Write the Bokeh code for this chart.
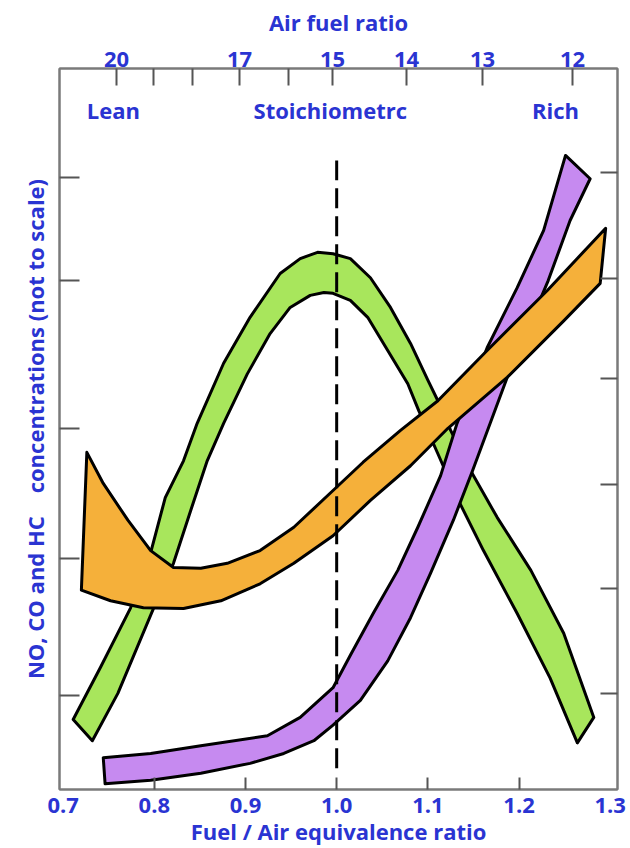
from bokeh.plotting import figure
from bokeh.models import Range1d, LinearAxis, FixedTicker, CustomJSTickFormatter, Label
from bokeh.embed import file_html
from bokeh.resources import INLINE

# ---------------- data ----------------
# x: fuel/air equivalence ratio, y: concentration (arbitrary units, not to scale)
no_upper_x = [0.711, 0.741, 0.774, 0.796, 0.812, 0.832, 0.847, 0.876, 0.905, 0.938, 0.960, 0.979,
              0.996, 1.015, 1.037, 1.059, 1.081, 1.100, 1.111, 1.125, 1.147, 1.176, 1.213, 1.249, 1.282]
no_upper_y = [9.9, 17.3, 25.7, 33.5, 41.3, 46.5, 51.8, 60.3, 66.8, 73.0, 75.1, 76.0,
              75.8, 75.1, 72.4, 68.2, 63.1, 57.9, 55.0, 50.8, 45.1, 38.5, 31.0, 22.1, 10.2]
no_lower_x = [0.732, 0.760, 0.799, 0.821, 0.840, 0.858, 0.876, 0.902, 0.927, 0.949, 0.971, 0.986,
              0.996, 1.015, 1.034, 1.056, 1.078, 1.090, 1.111, 1.132, 1.161, 1.198, 1.234, 1.264]
no_lower_y = [6.9, 13.6, 25.6, 32.0, 39.5, 46.5, 51.8, 58.8, 64.5, 68.2, 69.9, 70.3,
              70.2, 69.2, 66.8, 62.1, 57.4, 53.6, 47.5, 41.3, 33.8, 24.9, 15.8, 6.6]

co_upper_x = [0.744, 0.796, 0.851, 0.924, 0.960, 0.996, 1.015, 1.040, 1.067, 1.089, 1.114, 1.132,
              1.165, 1.198, 1.227, 1.251]
co_upper_y = [4.5, 5.1, 6.2, 7.6, 10.2, 14.4, 19.0, 24.9, 31.0, 37.1, 44.4, 51.8,
              62.5, 71.0, 79.1, 89.7]
co_lower_x = [0.746, 0.796, 0.851, 0.905, 0.942, 0.975, 0.996, 1.026, 1.056, 1.081, 1.103, 1.128,
              1.149, 1.187, 1.232, 1.256, 1.278]
co_lower_y = [0.8, 1.3, 2.3, 3.7, 5.1, 6.9, 9.1, 12.6, 18.2, 24.3, 30.6, 38.1,
              45.1, 58.3, 72.0, 80.5, 86.4]

hc_upper_x = [0.726, 0.744, 0.771, 0.796, 0.821, 0.851, 0.880, 0.916, 0.953, 0.996, 1.029, 1.070,
              1.111, 1.165, 1.231, 1.295]
hc_upper_y = [47.7, 43.3, 38.1, 33.8, 31.4, 31.3, 32.0, 33.8, 37.1, 42.3, 46.3, 50.8,
              55.0, 62.1, 70.6, 79.4]
hc_lower_x = [0.720, 0.752, 0.788, 0.832, 0.873, 0.916, 0.953, 0.996, 1.037, 1.081, 1.122, 1.187,
              1.249, 1.289]
hc_lower_y = [28.2, 26.7, 25.7, 25.6, 26.7, 29.1, 32.0, 35.9, 40.9, 45.8, 51.1, 58.3,
              66.3, 71.6]

stoich_phi = 1.0
stoich_line_y = [3.0, 89.0]

# axes
phi_labels = ["0.7", "0.8", "0.9", "1.0", "1.1", "1.2", "1.3"]
phi_ticks = [0.7, 0.8, 0.9, 1.0, 1.1, 1.2, 1.3]
afr_values = [20, 19, 18, 17, 16, 15, 14, 13, 12]
afr_phi = [0.7585, 0.7991, 0.8419, 0.8934, 0.9471, 0.9954, 1.0766, 1.1599, 1.2586]
afr_labeled = [True, False, False, True, False, True, True, True, True]
left_ticks = [13.3, 32.7, 51.1, 72.0, 86.6]
right_ticks = [13.6, 28.4, 43.1, 58.1, 72.3, 87.3]

regions = ["Lean", "Stoichiometrc", "Rich"]
region_x = [0.755, 0.993, 1.240]
region_y = 96.1

# ---------------- style ----------------
BLUE = "#2a34d2"
FONT = "Open Sans"
FS = "22px"
GRAY = "#7a7a7a"

p = figure(width=630, height=848, output_backend="svg", toolbar_location=None,
           x_range=Range1d(0.696, 1.308), y_range=Range1d(0, 102),
           x_axis_location=None, y_axis_location=None,
           min_border_left=59, min_border_right=13, min_border_top=68, min_border_bottom=59)
p.outline_line_color = GRAY
p.outline_line_width = 2
p.background_fill_color = "white"
p.border_fill_color = "white"
p.grid.visible = False
for r in list(p.center):
    r.visible = False


def fmt(pos, lab):
    return CustomJSTickFormatter(args=dict(pos=pos, lab=lab), code="""
        let best = 0, d = 1e9;
        for (let i = 0; i < pos.length; i++) {
            const e = Math.abs(pos[i] - tick);
            if (e < d) { d = e; best = i; }
        }
        return lab[best];
    """)


def style(ax, tick_in, labels=True):
    ax.axis_line_color = GRAY
    ax.axis_line_width = 2
    ax.major_tick_line_color = "#555555"
    ax.minor_tick_line_color = "#555555"
    ax.major_tick_line_width = 2
    ax.minor_tick_line_width = 2
    ax.major_tick_in = tick_in
    ax.major_tick_out = 0
    ax.minor_tick_in = tick_in
    ax.minor_tick_out = 0
    ax.axis_label_text_font = FONT
    ax.axis_label_text_font_style = "bold"
    ax.axis_label_text_font_size = FS
    ax.axis_label_text_color = BLUE
    ax.major_label_text_font = FONT
    ax.major_label_text_font_style = "bold"
    ax.major_label_text_font_size = FS
    ax.major_label_text_color = BLUE if labels else None


# bottom axis: labels on 0.7..1.3, inner tick marks at 0.8..1.2
xb = LinearAxis(ticker=FixedTicker(ticks=phi_ticks, minor_ticks=phi_ticks[1:-1]),
                formatter=fmt(phi_ticks, phi_labels),
                axis_label="Fuel / Air equivalence ratio")
style(xb, 12)
xb.major_tick_in = 0
xb.major_label_standoff = 8
xb.axis_label_standoff = 0
p.add_layout(xb, "below")

# top axis: air fuel ratio
top_major = [ph for ph, lb in zip(afr_phi, afr_labeled) if lb]
top_minor = [ph for ph, lb in zip(afr_phi, afr_labeled) if not lb]
xt = LinearAxis(ticker=FixedTicker(ticks=top_major, minor_ticks=top_minor),
                formatter=fmt(afr_phi, [str(a) for a in afr_values]),
                axis_label="Air fuel ratio")
style(xt, 17)
xt.major_label_standoff = 2
xt.axis_label_standoff = 12
p.add_layout(xt, "above")

# left axis (ticks only, no tick labels)
empty = CustomJSTickFormatter(code="return '';")
yl = LinearAxis(ticker=FixedTicker(ticks=left_ticks), formatter=empty,
                axis_label="NO, CO and HC\u00a0\u00a0\u00a0 concentrations (not to scale)")
style(yl, 20, labels=False)
yl.major_label_standoff = 0
yl.axis_label_standoff = 10
p.add_layout(yl, "left")

# right axis (ticks only)
yr = LinearAxis(ticker=FixedTicker(ticks=right_ticks), formatter=empty)
style(yr, 17, labels=False)
yr.major_label_standoff = 0
p.add_layout(yr, "right")

# bands
def band(ux, uy, lx, ly, color):
    xs = list(ux) + list(reversed(lx))
    ys = list(uy) + list(reversed(ly))
    p.patch(xs, ys, fill_color=color, line_color="black", line_width=3, line_join="round")

band(no_upper_x, no_upper_y, no_lower_x, no_lower_y, "#a8e65c")
band(co_upper_x, co_upper_y, co_lower_x, co_lower_y, "#c68af0")
band(hc_upper_x, hc_upper_y, hc_lower_x, hc_lower_y, "#f5b03a")

p.line([stoich_phi, stoich_phi], stoich_line_y, line_color="black", line_width=3, line_dash="20 8")

for t, x in zip(regions, region_x):
    p.add_layout(Label(x=x, y=region_y, text=t, text_align="center", text_baseline="middle",
                       text_font=FONT, text_font_style="bold", text_font_size=FS, text_color=BLUE))

open("out.html", "w").write(file_html(p, INLINE))
